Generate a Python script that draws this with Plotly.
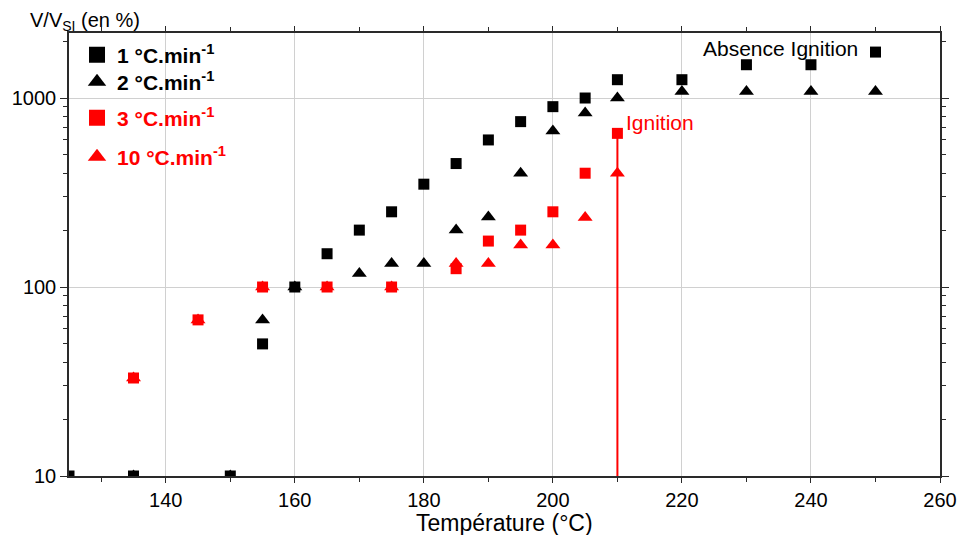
import plotly.graph_objects as go
import numpy as np

# Data
temp_1 = [125, 135, 150, 155, 160, 165, 170, 175, 180, 185, 190, 195, 200, 205, 210, 220, 230, 240, 250]
vals_1 = [10, 10, 10, 50, 100, 150, 200, 250, 350, 450, 600, 750, 900, 1000, 1250, 1250, 1500, 1500, 1750]

temp_2 = [135, 150, 155, 160, 170, 175, 180, 185, 190, 195, 200, 205, 210, 220, 230, 240, 250]
vals_2 = [10, 10, 67, 100, 118, 133, 133, 200, 235, 400, 670, 833, 1000, 1083, 1083, 1083, 1083]

temp_3 = [135, 145, 155, 165, 175, 185, 190, 195, 200, 205, 210]
vals_3 = [33, 67, 100, 100, 100, 125, 175, 200, 250, 400, 650]

temp_10 = [135, 145, 155, 165, 175, 185, 190, 195, 200, 205, 210]
vals_10 = [33, 67, 100, 100, 100, 133, 133, 167, 167, 233, 400]

series_names = ["1 °C.min<sup>-1</sup>", "2 °C.min<sup>-1</sup>", "3 °C.min<sup>-1</sup>", "10 °C.min<sup>-1</sup>"]
ignition_temp = 210

FONT = "Arial, 'Liberation Sans', sans-serif"
BLACK = "#000000"
RED = "#ff0000"
AXIS = "#2a2a2a"

fig = go.Figure()

# Ignition vertical line (from axis bottom up to the 3 °C.min-1 ignition point)
fig.add_trace(go.Scatter(x=[ignition_temp, ignition_temp], y=[10, vals_3[-1]], mode="lines",
                         line=dict(color=RED, width=2), showlegend=False, hoverinfo="skip"))

specs = [
    (temp_1, vals_1, "square", BLACK, 11),
    (temp_2, vals_2, "triangle-up", BLACK, 13),
    (temp_3, vals_3, "square", RED, 11),
    (temp_10, vals_10, "triangle-up", RED, 13),
]
for (xs, ys, sym, col, sz) in specs:
    fig.add_trace(go.Scatter(x=xs, y=ys, mode="markers",
                             marker=dict(symbol=sym, color=col, size=sz, line=dict(width=0)),
                             showlegend=False))

# Legend entries (one legend each so they can be placed like the reference)
legend_ids = ["legend", "legend2", "legend3", "legend4"]
legend_y = [0.950, 0.889, 0.808, 0.720]
for (xs, ys, sym, col, sz), name, lid in zip(specs, series_names, legend_ids):
    fig.add_trace(go.Scatter(x=[None], y=[None], mode="markers",
                             marker=dict(symbol=sym, color=col, size=16, line=dict(width=0)),
                             name=f"<b>{name}</b>", legend=lid, showlegend=True))

legend_common = dict(x=0.0092, xanchor="left", yanchor="middle", bgcolor="rgba(0,0,0,0)",
                     borderwidth=0, itemsizing="trace")
layout_legends = {}
for lid, ly, spec in zip(legend_ids, legend_y, specs):
    layout_legends[lid] = dict(legend_common, y=ly, font=dict(family=FONT, size=21, color=spec[3]))

fig.update_layout(
    width=959, height=535,
    margin=dict(l=69, r=19, t=33, b=59, autoexpand=False),
    paper_bgcolor="white", plot_bgcolor="white",
    font=dict(family=FONT, color=BLACK, size=20),
    showlegend=True,
    **layout_legends,
    xaxis=dict(
        range=[125, 260], dtick=20, tick0=0, automargin=False,
        showgrid=True, gridcolor="#d0d0d0", gridwidth=1,
        showline=True, linecolor=AXIS, linewidth=1.5, mirror="ticks",
        ticks="outside", ticklen=5, tickwidth=1, tickcolor=AXIS,
        minor=dict(dtick=10, ticks="outside", ticklen=4, tickcolor=AXIS, showgrid=False),
        tickfont=dict(size=20), zeroline=False,
    ),
    yaxis=dict(
        type="log", range=[1, 3.344], automargin=False,
        tickvals=[10, 100, 1000], ticktext=["10", "100", "1000"],
        showgrid=True, gridcolor="#d0d0d0", gridwidth=1,
        showline=True, linecolor=AXIS, linewidth=1.5, mirror="ticks",
        ticks="outside", ticklen=7, tickwidth=1, tickcolor=AXIS,
        minor=dict(ticks="outside", ticklen=4, tickcolor=AXIS, showgrid=False,
                   tickvals=[v * m for v in (10, 100, 1000) for m in range(2, 10)]),
        tickfont=dict(size=20), zeroline=False,
    ),
    annotations=[
        dict(text="V/V<sub>SI</sub> (en %)", xref="paper", yref="paper", x=-0.047, y=1.026,
             xanchor="left", yanchor="middle", showarrow=False, font=dict(size=20, color=BLACK)),
        dict(text="Température (°C)", xref="paper", yref="paper", x=0.4995, y=-0.105,
             xanchor="center", yanchor="middle", showarrow=False, font=dict(size=23, color=BLACK)),
        dict(text="Absence Ignition", x=temp_1[-1], y=np.log10(vals_1[-1]), xanchor="right",
             yanchor="middle", xshift=-15, yshift=4, showarrow=False, font=dict(size=21, color=BLACK)),
        dict(text="Ignition", x=ignition_temp, y=np.log10(vals_3[-1]), xanchor="left",
             yanchor="middle", xshift=7, yshift=11, showarrow=False, font=dict(size=21, color=RED)),
    ],
)

fig.write_html("out.html", config={"displayModeBar": False},
               post_script="document.body.style.margin='0';document.body.style.overflow='hidden';")
